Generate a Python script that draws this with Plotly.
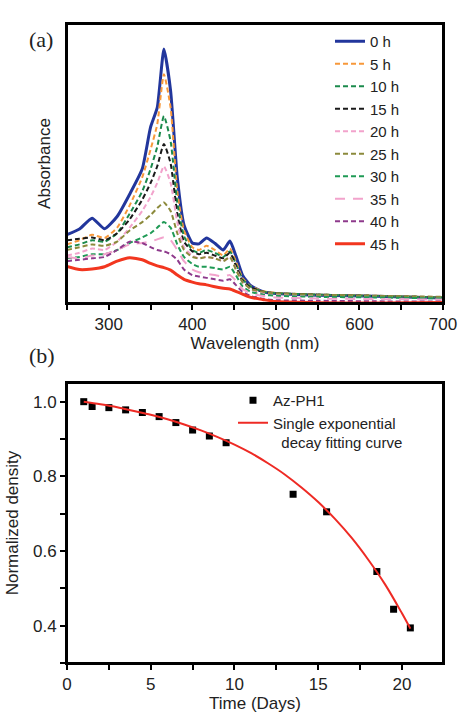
import plotly.graph_objects as go

# ---------------- Panel (a) data ----------------
wavelength = [250, 265, 280, 295, 310, 325, 340, 350, 358, 366, 374, 382, 390, 400, 408,
              417, 427, 437, 445, 452, 460, 470, 485, 500, 550, 620, 700]

abs_0h = [0.245, 0.265, 0.304, 0.266, 0.31, 0.39, 0.48, 0.63, 0.70, 0.91, 0.76, 0.45, 0.28, 0.215, 0.212,
          0.233, 0.214, 0.19, 0.222, 0.17, 0.10, 0.062, 0.04, 0.034, 0.028, 0.024, 0.018]
abs_5h = [0.21, 0.225, 0.245, 0.233, 0.27, 0.35, 0.45, 0.55, 0.64, 0.82, 0.70, 0.40, 0.26, 0.20, 0.19,
          0.205, 0.19, 0.17, 0.195, 0.15, 0.09, 0.06, 0.042, 0.036, 0.03, 0.026, 0.02]
abs_10h = [0.20, 0.21, 0.225, 0.22, 0.25, 0.32, 0.40, 0.48, 0.56, 0.67, 0.58, 0.36, 0.24, 0.19, 0.18,
           0.19, 0.18, 0.165, 0.185, 0.14, 0.085, 0.058, 0.04, 0.035, 0.03, 0.025, 0.02]
abs_15h = [0.225, 0.23, 0.235, 0.225, 0.25, 0.30, 0.37, 0.43, 0.49, 0.57, 0.50, 0.32, 0.22, 0.185, 0.175,
           0.18, 0.17, 0.16, 0.18, 0.135, 0.08, 0.055, 0.04, 0.034, 0.03, 0.025, 0.02]
abs_20h = [0.17, 0.18, 0.195, 0.19, 0.22, 0.27, 0.33, 0.38, 0.43, 0.49, 0.43, 0.29, 0.20, 0.17, 0.16,
           0.165, 0.16, 0.15, 0.165, 0.125, 0.075, 0.05, 0.035, 0.03, 0.028, 0.024, 0.02]
abs_25h = [0.19, 0.20, 0.21, 0.205, 0.22, 0.26, 0.29, 0.315, 0.34, 0.36, 0.33, 0.25, 0.19, 0.165, 0.16,
           0.165, 0.16, 0.15, 0.165, 0.12, 0.075, 0.05, 0.04, 0.035, 0.03, 0.026, 0.022]
abs_30h = [0.16, 0.165, 0.175, 0.175, 0.19, 0.215, 0.235, 0.25, 0.27, 0.29, 0.27, 0.21, 0.165, 0.14, 0.13,
           0.13, 0.125, 0.12, 0.13, 0.10, 0.06, 0.04, 0.03, 0.026, 0.022, 0.02, 0.016]
abs_35h = [0.165, 0.16, 0.17, 0.175, 0.19, 0.21, 0.215, 0.22, 0.228, 0.236, 0.225, 0.19, 0.15, 0.12, 0.11,
           0.105, 0.10, 0.095, 0.10, 0.08, 0.05, 0.035, 0.025, 0.02, 0.016, 0.014, 0.012]
abs_40h = [0.15, 0.155, 0.16, 0.165, 0.19, 0.22, 0.215, 0.20, 0.19, 0.185, 0.175, 0.155, 0.12, 0.10, 0.095,
           0.09, 0.085, 0.08, 0.085, 0.065, 0.04, 0.025, 0.015, 0.01, 0.008, 0.006, 0.005]
abs_45h = [0.131, 0.12, 0.122, 0.13, 0.15, 0.162, 0.155, 0.142, 0.133, 0.127, 0.118, 0.10, 0.085, 0.075, 0.069,
           0.065, 0.058, 0.053, 0.05, 0.042, 0.032, 0.02, 0.012, 0.005, 0.001, 0.0, 0.002]

series_names = ["0 h", "5 h", "10 h", "15 h", "20 h", "25 h", "30 h", "35 h", "40 h", "45 h"]
series_vals = [abs_0h, abs_5h, abs_10h, abs_15h, abs_20h, abs_25h, abs_30h, abs_35h, abs_40h, abs_45h]
series_colors = ["#22369c", "#f7983a", "#1b8a4c", "#1a1a1a", "#f2a3cc", "#8c8a3c",
                 "#1f9a55", "#f2a3cc", "#8e3a8c", "#f2361f"]
series_dash = ["solid", "5px,3px", "5px,3px", "5px,3px", "5px,3px", "5px,3px",
               "5px,3px", "10px,8px", "5px,3px", "solid"]
series_width = [3, 2, 2, 2, 2, 2, 2, 2, 2, 3]

# tick positions / labels (panel a)
wl_tickvals = [250, 300, 350, 400, 450, 500, 550, 600, 650, 700]
wl_ticktext = ["", "300", "", "400", "", "500", "", "600", "", "700"]

# ---------------- Panel (b) data ----------------
time_days = [1, 1.5, 2.5, 3.5, 4.5, 5.5, 6.5, 7.5, 8.5, 9.5, 13.5, 15.5, 18.5, 19.5, 20.5]
density = [1.0, 0.987, 0.984, 0.978, 0.971, 0.960, 0.944, 0.924, 0.908, 0.890,
           0.752, 0.705, 0.545, 0.444, 0.394]

fit_time = [1, 2, 3, 4, 5, 6, 7, 8, 9, 10, 11, 12, 13, 14, 15, 16, 17, 18, 19, 20, 20.5]
fit_density = [1.0, 0.993, 0.985, 0.975, 0.965, 0.953, 0.939, 0.923, 0.905, 0.885, 0.862,
               0.835, 0.805, 0.770, 0.731, 0.686, 0.635, 0.576, 0.510, 0.433, 0.392]

# tick positions / labels (panel b)
t_tickvals = [0, 2.5, 5, 7.5, 10, 12.5, 15, 17.5, 20, 22.5]
t_ticktext = ["0", "", "5", "", "10", "", "15", "", "20", ""]
d_tickvals = [0.3, 0.4, 0.5, 0.6, 0.7, 0.8, 0.9, 1.0]
d_ticktext = ["", "0.4", "", "0.6", "", "0.8", "", "1.0"]

FONT = "Liberation Sans, Arial, sans-serif"
W, H = 458, 715

fig = go.Figure()

for name, vals, col, dash, lw in zip(series_names, series_vals, series_colors, series_dash, series_width):
    fig.add_trace(go.Scatter(
        x=wavelength, y=vals, mode="lines", name=name,
        line=dict(color=col, dash=dash, width=lw, shape="spline", smoothing=0.5),
        xaxis="x", yaxis="y", legend="legend"))

fig.add_trace(go.Scatter(
    x=time_days, y=density, mode="markers", name="Az-PH1",
    marker=dict(symbol="square", size=7, color="black"),
    xaxis="x2", yaxis="y2", legend="legend2"))
fig.add_trace(go.Scatter(
    x=fit_time, y=fit_density, mode="lines",
    name="Single exponential<br>\u00a0\u00a0decay fitting curve",
    line=dict(color="#ee2a24", width=2, shape="spline"),
    xaxis="x2", yaxis="y2", legend="legend2"))


def axis(**kw):
    d = dict(showline=True, linewidth=2, linecolor="black", mirror=True,
             showgrid=False, zeroline=False, automargin=False,
             tickfont=dict(family=FONT, size=17, color="#222"),
             ticks="outside", ticklen=5, tickwidth=2, tickcolor="black")
    d.update(kw)
    return d


frame = dict(type="rect", line=dict(color="black", width=2), fillcolor="rgba(0,0,0,0)", layer="above")

fig.update_layout(
    width=W, height=H,
    margin=dict(l=0, r=0, t=0, b=0),
    paper_bgcolor="white", plot_bgcolor="white",
    font=dict(family=FONT, size=17, color="#222"),
    xaxis=axis(domain=[67 / W, 443 / W], anchor="y", range=[250, 700],
               tickmode="array", tickvals=wl_tickvals, ticktext=wl_ticktext,
               title=dict(text="Wavelength (nm)", font=dict(family=FONT, size=17), standoff=4)),
    yaxis=axis(domain=[1 - 303 / H, 1 - 24 / H], anchor="x", range=[0, 1.0],
               showticklabels=False, ticks="",
               title=dict(text="Absorbance", font=dict(family=FONT, size=17), standoff=10)),
    xaxis2=axis(domain=[67 / W, 443 / W], anchor="y2", range=[0, 22.45],
                tickmode="array", tickvals=t_tickvals, ticktext=t_ticktext,
                title=dict(text="Time (Days)", font=dict(family=FONT, size=17), standoff=4)),
    yaxis2=axis(domain=[1 - 663 / H, 1 - 383 / H], anchor="x2", range=[0.3, 1.05],
                tickmode="array", tickvals=d_tickvals, ticktext=d_ticktext,
                title=dict(text="Normalized density", font=dict(family=FONT, size=17), standoff=10)),
    legend=dict(x=330 / W, y=1 - 25 / H, xanchor="left", yanchor="top",
                bgcolor="rgba(0,0,0,0)", font=dict(family=FONT, size=15, color="#222"),
                tracegroupgap=0, itemwidth=30),
    legend2=dict(x=233 / W, y=1 - 384 / H, xanchor="left", yanchor="top",
                 bgcolor="rgba(0,0,0,0)", font=dict(family=FONT, size=15, color="#222"),
                 valign="top", itemwidth=30),
    shapes=[
        dict(frame, xref="x domain", yref="y domain", x0=0, x1=1, y0=0, y1=1),
        dict(frame, xref="x2 domain", yref="y2 domain", x0=0, x1=1, y0=0, y1=1),
    ],
    annotations=[
        dict(text="(a)", x=27 / W, y=1 - 25 / H, xref="paper", yref="paper",
             showarrow=False, font=dict(family="Liberation Serif, serif", size=22, color="#222")),
        dict(text="(b)", x=27 / W, y=1 - 356 / H, xref="paper", yref="paper",
             showarrow=False, font=dict(family="Liberation Serif, serif", size=22, color="#222")),
    ],
)

fig.write_html(
    "out.html",
    config={"displayModeBar": False},
    post_script="document.body.style.margin='0';document.body.style.overflow='hidden';",
)
